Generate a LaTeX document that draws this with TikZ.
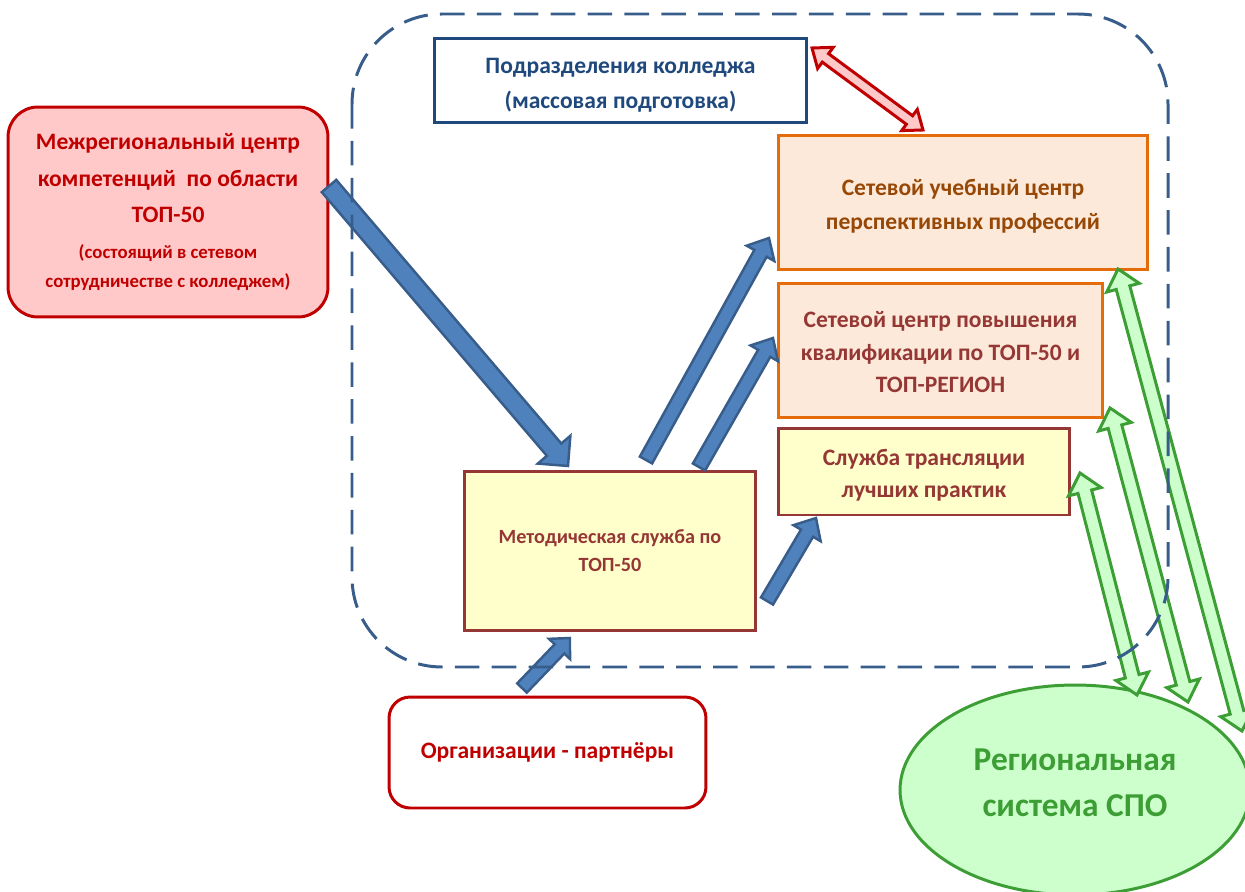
\documentclass[tikz,border=0pt]{standalone}
\usepackage{fontspec}
\setmainfont{Carlito}
\usetikzlibrary{calc,shapes.geometric}

\definecolor{dkred}{RGB}{192,0,0}
\definecolor{pinkfill}{RGB}{255,201,201}
\definecolor{navyline}{RGB}{31,73,125}
\definecolor{orangeline}{RGB}{228,108,10}
\definecolor{peach}{RGB}{253,233,217}
\definecolor{sucbrown}{RGB}{151,72,6}
\definecolor{wine}{RGB}{149,55,53}
\definecolor{paleyellow}{RGB}{255,255,204}
\definecolor{arrblue}{RGB}{79,129,189}
\definecolor{arrline}{RGB}{56,93,138}
\definecolor{grnline}{RGB}{60,158,52}
\definecolor{grnfill}{RGB}{204,255,204}

\newcommand\fsz[2]{\fontsize{#1}{#2}\selectfont\bfseries}

% block arrow: style, from, to, shaft half width, head half width, head length
\newcommand\onearrow[6]{%
  \draw[#1] let \p1=($(#3)-(#2)$), \n1={atan2(\y1,\x1)}, \n2={veclen(\x1,\y1)-#6} in
    ($(#2)+(\n1+90:#4)$) -- ($(#2)+(\n1:1pt*\n2)+(\n1+90:#4)$)
    -- ($(#2)+(\n1:1pt*\n2)+(\n1+90:#5)$) -- (#3)
    -- ($(#2)+(\n1:1pt*\n2)+(\n1-90:#5)$) -- ($(#2)+(\n1:1pt*\n2)+(\n1-90:#4)$)
    -- ($(#2)+(\n1-90:#4)$) -- cycle;}
% same with a head at both ends
\newcommand\twoarrow[6]{%
  \draw[#1] let \p1=($(#3)-(#2)$), \n1={atan2(\y1,\x1)}, \n2={veclen(\x1,\y1)-#6} in
    (#2) -- ($(#2)+(\n1:#6)+(\n1+90:#5)$) -- ($(#2)+(\n1:#6)+(\n1+90:#4)$)
    -- ($(#2)+(\n1:1pt*\n2)+(\n1+90:#4)$) -- ($(#2)+(\n1:1pt*\n2)+(\n1+90:#5)$)
    -- (#3)
    -- ($(#2)+(\n1:1pt*\n2)+(\n1-90:#5)$) -- ($(#2)+(\n1:1pt*\n2)+(\n1-90:#4)$)
    -- ($(#2)+(\n1:#6)+(\n1-90:#4)$) -- ($(#2)+(\n1:#6)+(\n1-90:#5)$) -- cycle;}

\tikzset{
  box/.style={draw, line width=1.7pt, inner sep=0pt, align=center},
  redbox/.style={box, draw=dkred, text=dkred, rounded corners=17pt},
  orangebox/.style={box, draw=orangeline, fill=peach},
  winebox/.style={box, draw=wine, fill=paleyellow, text=wine},
  bluearr/.style={fill=arrblue, draw=arrline, line width=1.4pt},
  greenarr/.style={fill=grnfill, draw=grnline, line width=1.7pt},
  redarr/.style={fill=pinkfill, draw=dkred, line width=1.7pt},
}

\begin{document}
\begin{tikzpicture}[x=0.02cm, y=-0.02cm, line join=miter]
\useasboundingbox (0,0) rectangle (1245,892);

% boxes
\node[redbox, fill=pinkfill, minimum width=6.4cm, minimum height=4.2cm, font=\fsz{13.4}{21}] (mcc) at (168,212)
  {Межрегиональный центр\\ компетенций~ по области\\ ТОП-50\\[-1pt]
   \fsz{10.7}{17}(состоящий в сетевом\\[-4pt] \fsz{10.7}{17}сотрудничестве с колледжем)};
\node[box, draw=navyline, fill=white, text=navyline, minimum width=7.46cm, minimum height=1.7cm, font=\fsz{13.4}{20}] (podr) at (620.5,80.5)
  {\\[-6.3pt] Подразделения колледжа\\ (массовая подготовка)};
\node[orangebox, text=sucbrown, minimum width=7.4cm, minimum height=2.7cm, font=\fsz{13.4}{19}] (suc) at (963,202.5)
  {\\[-5.5pt] Сетевой учебный центр\\ перспективных профессий};
\node[orangebox, text=wine, minimum width=6.5cm, minimum height=2.7cm, font=\fsz{13.4}{18.5}] (scpk) at (940.5,350.5)
  {\\[-7.2pt] Сетевой центр повышения\\ квалификации по ТОП-50 и\\ ТОП-РЕГИОН};
\node[winebox, minimum width=5.84cm, minimum height=1.74cm, font=\fsz{13.4}{18}] (stlp) at (924,471.5)
  {\\[-4.4pt] Служба трансляции\\ лучших практик};
\node[winebox, minimum width=5.84cm, minimum height=3.2cm, font=\fsz{11.5}{16}] (metod) at (610,551)
  {Методическая служба по\\ ТОП-50};
\node[redbox, fill=white, rounded corners=12pt, minimum width=6.34cm, minimum height=2.22cm, font=\fsz{13.4}{20}] (org) at (547.5,752.5)
  {Организации - партнёры};
\node[ellipse, draw=grnline, fill=grnfill, line width=1.7pt, text=grnline, align=center,
  minimum width=7cm, minimum height=4.2cm, font=\fsz{19}{26}] (spo) at (1075,790)
  {Региональная\\ система СПО\\[-17.5pt]};

% arrow ends
\coordinate (b1s) at (329,186);  \coordinate (b1e) at (568,466);
\coordinate (b2s) at (646,460);  \coordinate (b2e) at (769,238);
\coordinate (b3s) at (699,467);  \coordinate (b3e) at (773,338);
\coordinate (b4s) at (767,601);  \coordinate (b4e) at (816,518);
\coordinate (b5s) at (522,688);  \coordinate (b5e) at (570,638);
\coordinate (g1s) at (1118,269); \coordinate (g1e) at (1242,731);
\coordinate (g2s) at (1110,408); \coordinate (g2e) at (1188,702);
\coordinate (g3s) at (1080,473); \coordinate (g3e) at (1137,695);
\coordinate (r1s) at (812,48);   \coordinate (r1e) at (923,130);

\onearrow{bluearr}{b1s}{b1e}{5.4pt}{12.2pt}{12.2pt}
\onearrow{bluearr}{b2s}{b2e}{4pt}{9pt}{10pt}
\onearrow{bluearr}{b3s}{b3e}{4pt}{9pt}{10pt}
\onearrow{bluearr}{b4s}{b4e}{4pt}{9pt}{10pt}
\onearrow{bluearr}{b5s}{b5e}{3.8pt}{8.3pt}{8.6pt}
\twoarrow{greenarr}{g1s}{g1e}{4pt}{9.6pt}{11pt}
\twoarrow{greenarr}{g2s}{g2e}{4pt}{9.6pt}{11pt}
\twoarrow{greenarr}{g3s}{g3e}{4pt}{9.6pt}{11pt}
\twoarrow{redarr}{r1s}{r1e}{3pt}{7.5pt}{9.5pt}

% college frame
\draw[arrline, line width=1.7pt, dash pattern=on 14pt off 7pt, rounded corners=1.8cm]
  (352,14) rectangle (1168,667);
\end{tikzpicture}
\end{document}
